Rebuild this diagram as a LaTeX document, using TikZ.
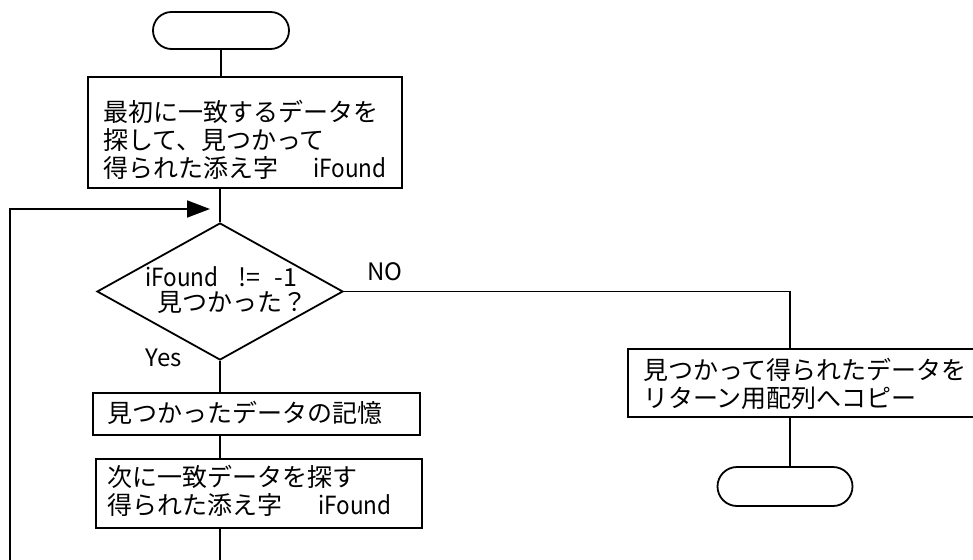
\documentclass[tikz,border=0pt]{standalone}
\usepackage{fontspec}
\setmainfont{Noto Sans CJK JP}
\usetikzlibrary{shapes.geometric,shapes.misc,arrows.meta}
\newcommand{\narw}[1]{\scalebox{0.9}[1]{#1}}
\tikzset{
  flow/.style={line width=1.8pt},
  term/.style={draw, line width=1.8pt, rounded rectangle, inner sep=0pt},
  procbox/.style={draw, line width=1.8pt, rectangle, inner sep=0pt},
  decis/.style={draw, line width=1.8pt, diamond, inner sep=0pt},
  txt/.style={font=\fontsize{25pt}{28pt}\selectfont, inner sep=0pt, align=left, anchor=west},
  lbl/.style={font=\fontsize{24pt}{28pt}\selectfont, inner sep=0pt}
}
\begin{document}
\begin{tikzpicture}[x=1pt,y=-1pt]
\useasboundingbox (0,0) rectangle (973,559);
\clip (0,0) rectangle (973,559);
% nodes
\node[term, minimum width=136pt, minimum height=37pt] (start) at (221,30.5) {};
\node[procbox, minimum width=314pt, minimum height=111pt] (b1) at (245,132.5) {};
\node[txt] (t1) at (103,140) {最初に一致するデータを\\探して、見つかって\\得られた添え字\hspace{35pt}\narw{iFound}};
\node[decis, minimum width=246pt, minimum height=137pt] (dia) at (220,291.5) {};
\node[txt] (td1) at (145,277) {\narw{iFound}\hspace{20pt}!=\hspace{14pt}-1};
\node[txt] (td2) at (157,302) {見つかった？};
\node[procbox, minimum width=327pt, minimum height=42pt] (b2) at (256.5,414) {};
\node[txt] (t2) at (107,413) {見つかったデータの記憶};
\node[procbox, minimum width=326pt, minimum height=69pt] (b3) at (259,493.5) {};
\node[txt] (t3) at (107,491) {次に一致データを探す\\得られた添え字\hspace{36pt}\narw{iFound}};
\node[procbox, minimum width=400pt, minimum height=68pt, anchor=west] (b4) at (627,383) {};
\node[txt] (t4) at (643,383.5) {見つかって得られたデータを\\リターン用配列へコピー};
\node[term, minimum width=135pt, minimum height=39pt] (end) at (785,486.5) {};
\node[lbl] (no) at (385,272) {NO};
\node[lbl] (yes) at (164,358) {Yes};
% coordinates
\coordinate (b4top) at (790,349);
\coordinate (b4bot) at (790,417);
\coordinate (bottom) at (220,565);
\coordinate (loopbot) at (10,565);
\coordinate (looptop) at (10,209);
\coordinate (merge) at (210,209);
% connectors
\draw[flow] (start.south) -- (b1.north -| start.south);
\draw[flow] (b1.south -| dia.north) -- (dia.north);
\draw[flow] (dia.south) -- (b2.north -| dia.south);
\draw[flow] (b2.south -| dia.south) -- (b3.north -| dia.south);
\draw[flow] (b3.south -| dia.south) -- (bottom);
\draw[flow] (dia.east) -| (b4top);
\draw[flow] (b4bot) -- (b4bot |- end.north);
\draw[flow, -{Triangle[length=23pt,width=17pt]}] (loopbot) -- (looptop) -- (merge);
\end{tikzpicture}
\end{document}
